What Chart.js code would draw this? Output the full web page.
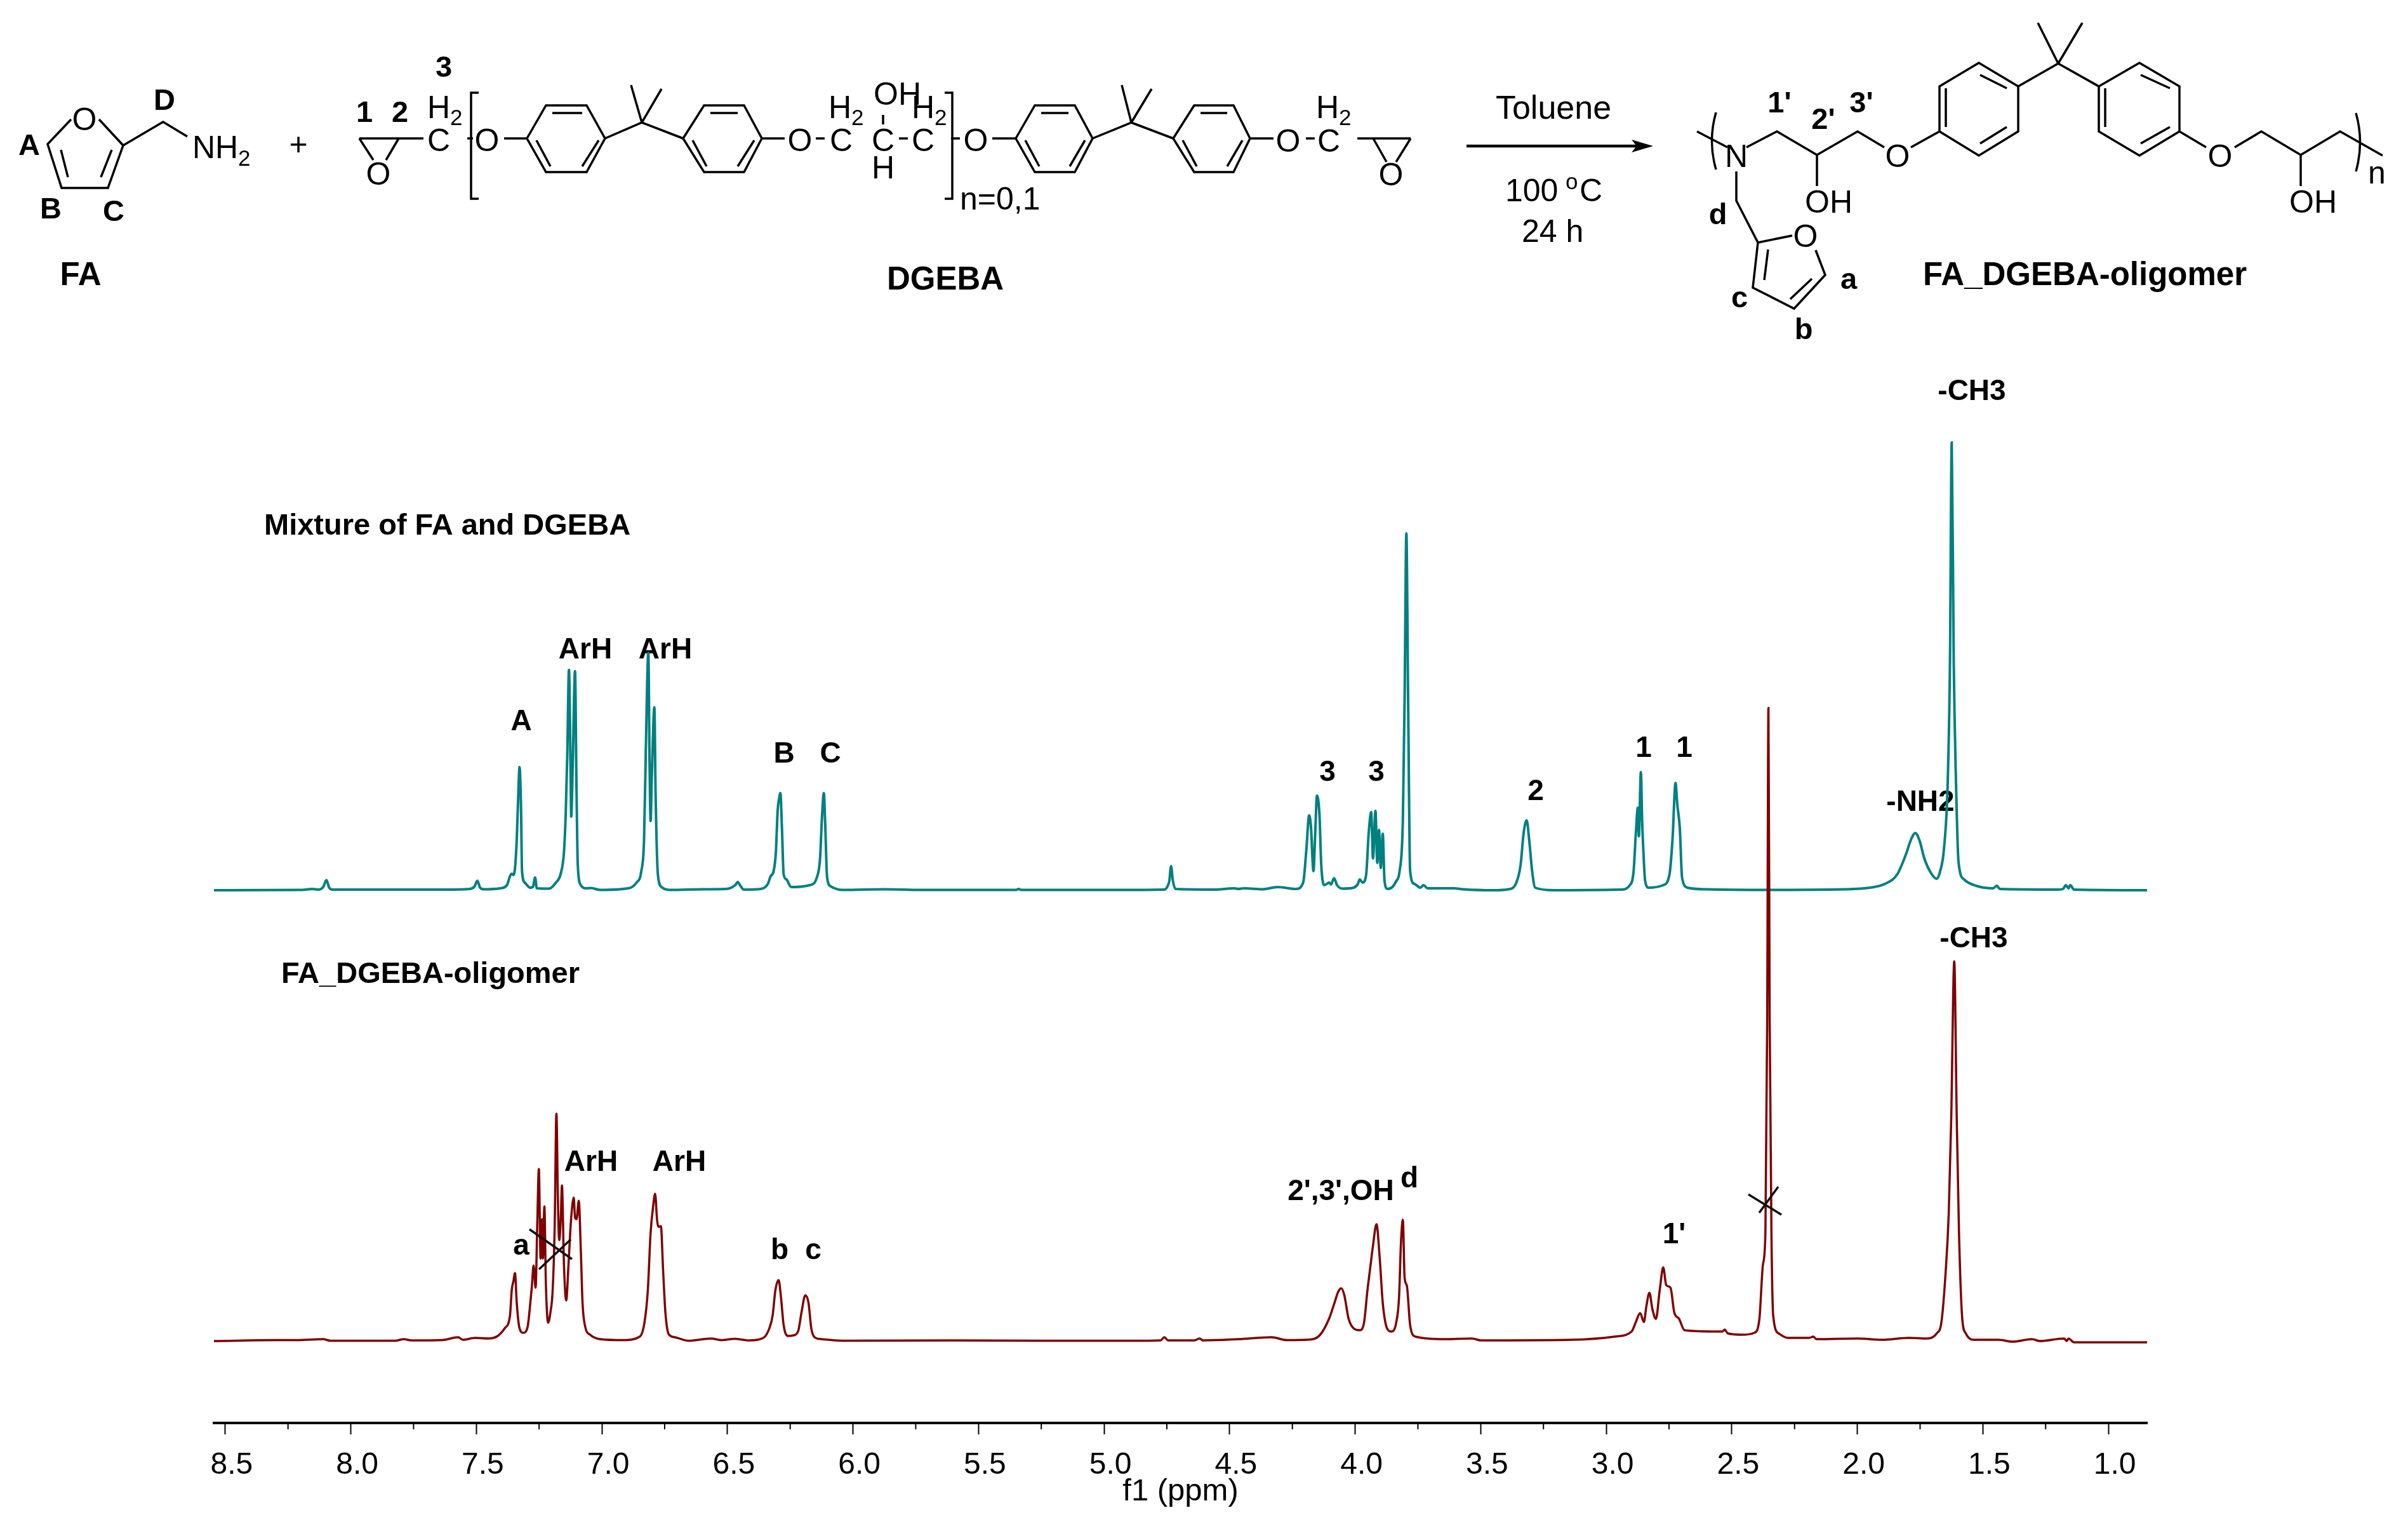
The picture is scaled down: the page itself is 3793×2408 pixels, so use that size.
<!DOCTYPE html>
<html>
<head>
<meta charset="utf-8">
<title>1H NMR of FA/DGEBA mixture and oligomer</title>
<script src="https://cdn.jsdelivr.net/npm/chart.js@4/dist/chart.umd.min.js"></script>
<style>
    html, body { margin: 0; padding: 0; background: #fff; }
    #wrap { position: relative; width: 3793px; height: 2408px; }
    #nmr { position: absolute; left: 0; top: 0; }
    #scheme { position: absolute; left: 0; top: 0; pointer-events: none; }
    #scheme text { font-family: "Liberation Sans", Arial, sans-serif; font-size: 50px; fill: #000; }
    #scheme .b { font-weight: bold; font-size: 47px; }
    #scheme .t { font-weight: bold; font-size: 51px; }
    #scheme .m { text-anchor: middle; }
    #scheme .s { font-size: 35px; }
    #scheme path { fill: none; stroke: #000; stroke-width: 3.5; }
</style>
</head>
<body>
<div id="wrap">
<canvas id="nmr" width="3793" height="2408"></canvas>
<svg id="scheme" width="3793" height="2408" viewBox="0 0 3793 2408">
    <!-- furfurylamine -->
    <path d="M112 188L75 227L97 296H170L194 229L156 188M107 279L96 236M159 279L176 236M194 229L257 192L295 215"/>
    <text class="m" x="133" y="205">O</text>
    <text x="303" y="249">NH</text><text class="s" x="375" y="261">2</text>
    <text class="b m" x="46" y="244">A</text>
    <text class="b m" x="80" y="344">B</text>
    <text class="b m" x="179" y="348">C</text>
    <text class="b m" x="259" y="173">D</text>
    <text class="t m" x="127" y="449">FA</text>
    <text class="m" x="470" y="244">+</text>

    <!-- DGEBA -->
    <path d="M566 218H667M566 218L588 252M628 218L608 252M736 218H745M794 218H830"/>
    <path d="M754 146H742V313H754M1488 146H1500V313H1488"/>
    <path d="M830 218L860 166H924L953 218L924 271H860ZM870 178H917M845 221L867 262M943 221L917 262"/>
    <path d="M953 218L1011 193L1076 218M1011 193L994 134M1011 193L1042 140"/>
    <path d="M1076 218L1109 166H1172L1200 218L1172 271H1109ZM1119 178H1162M1091 221L1113 262M1188 221L1162 262"/>
    <path d="M1200 218H1236M1285 218H1299M1391 181V196M1416 218H1430M1498 218H1512M1563 218H1600"/>
    <path d="M1600 218L1630 166H1693L1721 218L1693 271H1630ZM1640 178H1683M1615 221L1637 262M1709 221L1685 262"/>
    <path d="M1721 218L1782 193L1848 218M1782 193L1767 134M1782 193L1814 140"/>
    <path d="M1848 218L1881 166H1943L1969 218L1943 271H1881ZM1891 178H1933M1863 221L1885 262M1957 221L1933 262"/>
    <path d="M1969 218H2006M2057 218H2071M2138 218H2222M2163 218L2184 255M2222 218L2199 255"/>
    <text class="m" x="691" y="238">C</text><text class="m" x="596" y="291">O</text>
    <text x="673" y="186">H</text><text class="s" x="709" y="197">2</text>
    <text class="m" x="767" y="238">O</text><text class="m" x="1260" y="238">O</text>
    <text class="m" x="1325" y="238">C</text><text class="m" x="1391" y="238">C</text><text class="m" x="1454" y="238">C</text>
    <text x="1305" y="186">H</text><text class="s" x="1341" y="197">2</text>
    <text x="1376" y="165">OH</text>
    <text x="1436" y="186">H</text><text class="s" x="1472" y="197">2</text>
    <text class="m" x="1391" y="281">H</text>
    <text x="1512" y="330">n=0,1</text>
    <text class="m" x="1537" y="238">O</text>
    <text class="m" x="2029" y="239">O</text><text class="m" x="2093" y="239">C</text>
    <text x="2073" y="186">H</text><text class="s" x="2109" y="197">2</text>
    <text class="m" x="2191" y="292">O</text>
    <text class="b m" x="699" y="121">3</text>
    <text class="b m" x="574" y="192">1</text>
    <text class="b m" x="630" y="192">2</text>
    <text class="t m" x="1489" y="456">DGEBA</text>

    <!-- reaction arrow -->
    <path d="M2310 230H2580" style="stroke-width:4.5"/>
    <polygon points="2604,230 2570,220 2578,230 2570,240" fill="#000"/>
    <text class="m" x="2447" y="187" style="font-size:52px">Toluene</text>
    <text x="2371" y="317">100</text><text class="s" x="2466" y="298">o</text><text x="2488" y="317">C</text>
    <text x="2397" y="381">24 h</text>

    <!-- oligomer -->
    <path d="M2703 177Q2690 222 2703 267M2673 207L2721 232M2751 232L2799 207L2862 244L2926 207L2968 232M3010 232L3055 207"/>
    <path d="M3055 207V136L3117 99L3179 136V207L3117 245ZM3065 139V200M3119 118L3161 139M3119 226L3161 200"/>
    <path d="M3179 136L3242 100L3306 136M3242 100L3210 36M3242 100L3280 36"/>
    <path d="M3306 136L3370 99L3433 136V207L3370 245L3306 207ZM3316 139V200M3372 118L3418 139M3372 226L3418 200"/>
    <path d="M3433 207L3475 232M3520 232L3562 207L3624 244L3686 207L3753 245M3711 178Q3724 224 3711 270"/>
    <path d="M2862 244V293M3624 244V293M2735 270V316L2769 382L2823 371M2860 394L2875 433L2826 486L2761 453L2769 382M2785 393L2779 441M2854 439L2820 471"/>
    <text class="m" x="2735" y="263">N</text>
    <text class="m" x="2989" y="263">O</text>
    <text class="m" x="3497" y="263">O</text>
    <text class="m" x="2844" y="389">O</text>
    <text x="2843" y="335">OH</text>
    <text x="3606" y="335">OH</text>
    <text x="3730" y="289">n</text>
    <text class="b m" x="2803" y="177">1'</text>
    <text class="b m" x="2872" y="203">2'</text>
    <text class="b m" x="2932" y="177">3'</text>
    <text class="b m" x="2706" y="353">d</text>
    <text class="b m" x="2912" y="455">a</text>
    <text class="b m" x="2740" y="484">c</text>
    <text class="b m" x="2841" y="534">b</text>
    <text class="t" x="3029" y="449">FA_DGEBA-oligomer</text>
</svg>
</div>
<script>
(function () {
    "use strict";

    const tickValues = [8.5, 8.0, 7.5, 7.0, 6.5, 6.0, 5.5, 5.0, 4.5, 4.0, 3.5, 3.0, 2.5, 2.0, 1.5, 1.0];
    const minorTickValues = [8.25, 7.75, 7.25, 6.75, 6.25, 5.75, 5.25, 4.75, 4.25, 3.75, 3.25, 2.75, 2.25, 1.75, 1.25];

    // mixture of FA and DGEBA, chemical shift and intensity
    const tealPpm = [8.546, 8.194, 8.153, 8.129, 8.110, 8.097, 8.086, 8.073, 7.619, 7.526, 7.507, 7.496, 7.485, 7.470, 7.405, 7.378, 7.366, 7.359, 7.353, 7.346, 7.339, 7.333, 7.328, 7.322, 7.318, 7.307, 7.285, 7.274, 7.266, 7.259, 7.211, 7.183, 7.164, 7.151, 7.144, 7.138, 7.131, 7.125, 7.122, 7.116, 7.107, 7.101, 7.096, 7.084, 7.062, 7.044, 7.007, 6.895, 6.862, 6.843, 6.832, 6.825, 6.815, 6.810, 6.806, 6.801, 6.791, 6.786, 6.777, 6.762, 6.728, 6.599, 6.506, 6.469, 6.459, 6.450, 6.435, 6.367, 6.339, 6.328, 6.316, 6.307, 6.300, 6.294, 6.289, 6.283, 6.276, 6.265, 6.246, 6.172, 6.144, 6.131, 6.124, 6.116, 6.111, 6.103, 6.088, 6.042, 5.875, 5.730, 5.350, 5.340, 5.330, 4.950, 4.760, 4.745, 4.740, 4.733, 4.726, 4.715, 4.560, 4.480, 4.466, 4.442, 4.369, 4.309, 4.236, 4.207, 4.195, 4.183, 4.176, 4.166, 4.159, 4.152, 4.142, 4.135, 4.123, 4.103, 4.096, 4.084, 4.072, 4.050, 4.006, 3.989, 3.982, 3.970, 3.956, 3.946, 3.936, 3.929, 3.919, 3.912, 3.905, 3.898, 3.890, 3.883, 3.871, 3.852, 3.837, 3.823, 3.810, 3.803, 3.796, 3.789, 3.781, 3.764, 3.740, 3.728, 3.711, 3.607, 3.571, 3.450, 3.390, 3.358, 3.341, 3.329, 3.317, 3.307, 3.295, 3.283, 3.208, 2.942, 2.906, 2.891, 2.882, 2.874, 2.870, 2.862, 2.857, 2.853, 2.845, 2.831, 2.773, 2.748, 2.736, 2.724, 2.717, 2.707, 2.698, 2.676, 2.603, 2.361, 2.047, 1.950, 1.890, 1.841, 1.805, 1.786, 1.769, 1.752, 1.733, 1.708, 1.684, 1.670, 1.655, 1.640, 1.631, 1.624, 1.616, 1.607, 1.597, 1.575, 1.527, 1.459, 1.445, 1.432, 1.200, 1.181, 1.169, 1.159, 1.152, 1.137, 0.845];
    const tealInt = [0, 0.5, 2, 1, 5, 16, 4, 1, 1, 2, 6, 15, 4, 1.5, 3, 8, 22, 26, 24, 35, 80, 150, 194, 130, 30, 12, 4, 6, 20, 3, 2.5, 12, 26, 60, 120, 210, 347, 200, 116, 200, 345, 160, 40, 8, 3, 3.5, 0.5, 3, 12, 30, 80, 220, 374, 200, 109, 180, 288, 150, 25, 5, 0.5, 1.5, 2, 8, 13, 8, 1, 2, 10, 22, 30, 60, 125, 145, 153, 100, 25, 17, 5, 8, 20, 50, 110, 153, 110, 20, 6, 0.5, 1.5, 0.5, 0.5, 2, 0.5, 0.5, 1, 8, 15, 38, 15, 2, 1, 3, 2, 3, 1.5, 5, 2, 12, 60, 118, 100, 30, 90, 149, 118, 40, 8, 12, 9, 19, 8, 2.5, 4, 10, 17, 12, 25, 90, 123, 50, 125, 43, 95, 35, 89, 15, 2, 5, 14, 30, 110, 300, 562, 300, 30, 10, 4, 8, 3, 3, 1.5, 0, 1.5, 12, 40, 90, 110, 80, 30, 4, 0, 1, 8, 30, 90, 130, 85, 186, 110, 70, 15, 4, 8, 25, 80, 169, 135, 98, 20, 4, 1.5, 0.5, 1.5, 4, 10, 25, 58, 80, 90, 78, 50, 28, 18, 30, 65, 170, 360, 705, 360, 170, 45, 17, 7, 3, 7, 2, 1, 2, 8, 3, 8, 1, 0];

    // FA_DGEBA oligomer
    const redPpm = [8.546, 8.296, 8.212, 8.110, 8.082, 7.823, 7.789, 7.758, 7.637, 7.572, 7.554, 7.504, 7.452, 7.415, 7.387, 7.366, 7.359, 7.352, 7.346, 7.339, 7.329, 7.313, 7.296, 7.285, 7.279, 7.272, 7.264, 7.257, 7.251, 7.244, 7.238, 7.235, 7.229, 7.223, 7.214, 7.205, 7.196, 7.188, 7.181, 7.175, 7.170, 7.164, 7.159, 7.151, 7.142, 7.133, 7.123, 7.112, 7.107, 7.101, 7.092, 7.084, 7.077, 7.066, 7.047, 7.007, 6.914, 6.849, 6.830, 6.817, 6.806, 6.795, 6.788, 6.780, 6.775, 6.765, 6.756, 6.747, 6.734, 6.710, 6.654, 6.565, 6.524, 6.472, 6.413, 6.357, 6.333, 6.320, 6.309, 6.296, 6.287, 6.276, 6.259, 6.237, 6.218, 6.205, 6.190, 6.177, 6.166, 6.153, 6.126, 6.042, 5.600, 5.250, 4.900, 4.775, 4.760, 4.745, 4.640, 4.620, 4.605, 4.466, 4.333, 4.272, 4.176, 4.139, 4.103, 4.084, 4.067, 4.055, 4.043, 4.026, 4.006, 3.982, 3.965, 3.951, 3.941, 3.929, 3.915, 3.902, 3.890, 3.873, 3.856, 3.837, 3.825, 3.818, 3.810, 3.803, 3.794, 3.781, 3.760, 3.644, 3.535, 3.498, 3.136, 2.966, 2.899, 2.882, 2.865, 2.850, 2.840, 2.828, 2.816, 2.802, 2.787, 2.773, 2.761, 2.744, 2.729, 2.710, 2.688, 2.555, 2.538, 2.528, 2.516, 2.458, 2.410, 2.390, 2.376, 2.366, 2.359, 2.354, 2.349, 2.342, 2.335, 2.313, 2.277, 2.192, 2.175, 2.163, 1.999, 1.902, 1.793, 1.720, 1.684, 1.665, 1.648, 1.636, 1.626, 1.614, 1.604, 1.595, 1.582, 1.568, 1.539, 1.437, 1.382, 1.304, 1.273, 1.176, 1.166, 1.159, 1.137, 0.845];
    const redInt = [0, 1.5, 1.5, 3, 0.5, 0.5, 3, 1, 1.5, 6, 2, 5, 4, 8, 20, 40, 80, 95, 107, 60, 22, 13, 22, 60, 85, 119, 84, 190, 271, 130, 192, 130, 212, 90, 29, 45, 80, 180, 358, 220, 159, 190, 245, 120, 64, 120, 190, 226, 195, 192, 221, 145, 60, 22, 10, 3, 1.5, 7, 30, 80, 170, 215, 232, 190, 180, 181, 110, 45, 11, 6, 0.5, 4, 1.5, 3.5, 1, 5, 20, 40, 80, 96, 70, 25, 8, 9, 16, 45, 72, 60, 20, 6, 3, 0.5, 1, 0.5, 0.5, 1, 6, 1, 1, 4, 1, 3, 6, 1.5, 2.5, 10, 36, 58, 78, 83, 72, 35, 20, 17, 28, 80, 112, 150, 184, 130, 60, 20, 15, 28, 70, 150, 191, 100, 87, 25, 7, 3, 4, 1, 2, 7, 15, 30, 44, 30, 55, 76, 50, 35, 80, 116, 88, 84, 45, 35, 17, 15, 15, 18, 12, 10, 13, 35, 120, 170, 500, 997, 500, 170, 40, 12, 5, 5, 7, 3, 4, 2, 5, 4, 12, 30, 110, 200, 350, 598, 350, 170, 35, 12, 2, 2, -1, 3, 0, 4, 0, 4, -2, -2];

    // peak assignments and captions
    const peakLabels = ["A", "ArH", "ArH", "B", "C", "3", "3", "2", "1", "1", "-NH2", "-CH3", "a", "ArH", "ArH", "b", "c", "2',3',OH", "d", "1'", "-CH3"];
    const peakLabelX = [821, 922, 1048, 1235, 1308, 2091, 2168, 2419, 2589, 2653, 3025, 3106, 821, 931, 1070, 1228, 1281, 2112, 2220, 2637, 3109];
    const peakLabelY = [1150, 1037, 1037, 1201, 1201, 1230, 1230, 1260, 1192, 1192, 1277, 630, 1976, 1844, 1844, 1983, 1983, 1890, 1870, 1958, 1492];
    const captions = ["Mixture of FA and DGEBA", "FA_DGEBA-oligomer"];
    const captionX = [416, 443];
    const captionY = [842, 1548];

    const xMarks = [[834, 1936, 901, 1983], [899, 1952, 849, 1999], [2754, 1881, 2806, 1913], [2801, 1869, 2771, 1910]];

    function toPoints(ppm, intensity) {
        return ppm.map(function (value, i) {
            return { x: value, y: intensity[i] };
        });
    }

    const labelsPlugin = {
        id: 'peakLabels',
        beforeDatasetsDraw: function (chart) {
            const ctx = chart.ctx;
            ctx.save();
            ctx.fillStyle = '#000';
            ctx.textBaseline = 'alphabetic';
            ctx.textAlign = 'center';
            ctx.font = 'bold 46px "Liberation Sans"';
            peakLabels.forEach(function (text, i) {
                ctx.fillText(text, peakLabelX[i], peakLabelY[i]);
            });
            ctx.textAlign = 'left';
            ctx.font = 'bold 47px "Liberation Sans"';
            captions.forEach(function (text, i) {
                ctx.fillText(text, captionX[i], captionY[i]);
            });
            ctx.restore();
        },
        afterDraw: function (chart) {
            const ctx = chart.ctx;
            const xScale = chart.scales.x;
            ctx.save();
            ctx.strokeStyle = '#000';
            // minor ticks, axis only has one tick length
            ctx.lineWidth = 2;
            minorTickValues.forEach(function (value) {
                const px = xScale.getPixelForValue(value);
                ctx.beginPath();
                ctx.moveTo(px, xScale.top);
                ctx.lineTo(px, xScale.top + 10);
                ctx.stroke();
            });
            // crossed out solvent peaks
            ctx.lineWidth = 3.5;
            ctx.strokeStyle = '#111';
            xMarks.forEach(function (m) {
                ctx.beginPath();
                ctx.moveTo(m[0], m[1]);
                ctx.lineTo(m[2], m[3]);
                ctx.stroke();
            });
            ctx.restore();
        }
    };

    new Chart(document.getElementById('nmr'), {
        type: 'line',
        data: {
            datasets: [
                {
                    label: 'Mixture of FA and DGEBA',
                    data: toPoints(tealPpm, tealInt),
                    yAxisID: 'yTeal',
                    borderColor: '#008080',
                    borderWidth: 4,
                    pointRadius: 0,
                    cubicInterpolationMode: 'monotone',
                    order: 2
                },
                {
                    label: 'FA_DGEBA-oligomer',
                    data: toPoints(redPpm, redInt),
                    yAxisID: 'yRed',
                    borderColor: '#800000',
                    borderWidth: 3.5,
                    pointRadius: 0,
                    cubicInterpolationMode: 'monotone',
                    order: 1
                }
            ]
        },
        options: {
            responsive: false,
            animation: false,
            devicePixelRatio: 1,
            layout: { padding: { left: 337, right: 411, top: 600, bottom: 0 } },
            plugins: { legend: { display: false }, tooltip: { enabled: false } },
            scales: {
                x: {
                    type: 'linear',
                    reverse: true,
                    min: 0.846,
                    max: 8.545,
                    afterBuildTicks: function (scale) {
                        scale.ticks = tickValues.map(function (v) { return { value: v }; });
                    },
                    afterFit: function (scale) {
                        scale.height = 167;
                    },
                    grid: { drawOnChartArea: false, tickLength: 18, tickWidth: 2, tickColor: '#000' },
                    border: { color: '#000', width: 4 },
                    ticks: {
                        autoSkip: false,
                        maxRotation: 0,
                        padding: 20,
                        labelOffset: 10,
                        color: '#000',
                        font: { family: '"Liberation Sans"', size: 48 },
                        callback: function (value) { return value.toFixed(1); }
                    },
                    title: {
                        display: true,
                        text: 'f1 (ppm)',
                        color: '#000',
                        font: { family: '"Liberation Sans"', size: 49 },
                        padding: { top: 0, bottom: 29 }
                    }
                },
                yTeal: { display: false, min: -839, max: 802 },
                yRed: { display: false, min: -129, max: 1512 }
            }
        },
        plugins: [labelsPlugin]
    });
})();
</script>
</body>
</html>
